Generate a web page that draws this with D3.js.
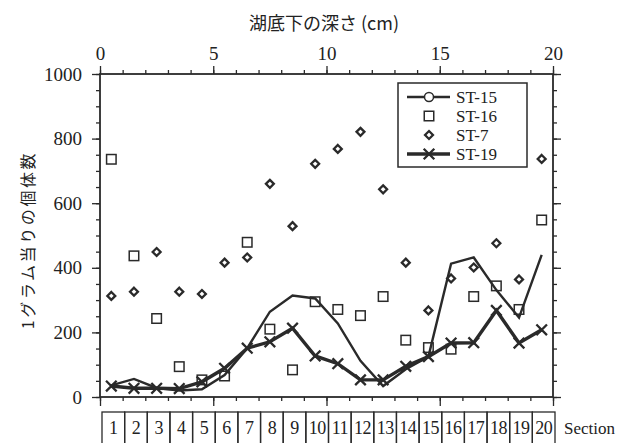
<!DOCTYPE html>
<html><head><meta charset="utf-8">
<script src="https://cdn.jsdelivr.net/npm/d3@7"></script>
<style>
body{margin:0;background:#fff;}
svg{display:block;}
</style></head>
<body>
<svg id="chart" width="621" height="443"></svg>
<script>
// Data (sections 1..20, each section spans 1 cm of depth)
const sections = ["1","2","3","4","5","6","7","8","9","10","11","12","13","14","15","16","17","18","19","20"];
const st15 = [36, 56, 28, 20, 24, 68, 151, 264, 314, 305, 228, 112, 34, 86, 125, 413, 432, 331, 246, 440];
const st16 = [736, 437, 243, 94, 53, 65, 479, 210, 84, 295, 271, 252, 311, 176, 153, 148, 311, 344, 271, 548];
const st7  = [313, 326, 449, 326, 319, 416, 432, 660, 529, 722, 768, 821, 643, 416, 268, 367, 401, 476, 364, 737];
const st19 = [34, 27, 27, 26, 47, 89, 151, 171, 213, 127, 103, 53, 53, 95, 125, 167, 168, 268, 167, 208];
const depthTicks = [0, 5, 10, 15, 20];
const countTicks = [0, 200, 400, 600, 800, 1000];
const legendNames = ["ST-15", "ST-16", "ST-7", "ST-19"];
const xTitle = "湖底下の深さ (cm)";
const yTitle = "1グラム当りの個体数";
const sectionTitle = "Section";

const C = "#2a2a2a";
const svg = d3.select("#chart");
const x = d3.scaleLinear().domain([0, 20]).range([100, 553]);
const y = d3.scaleLinear().domain([0, 1000]).range([397, 74]);
const serif = "'Liberation Serif', 'Times New Roman', serif";
const sans = "'Noto Sans CJK JP', 'Noto Sans', sans-serif";

const xc = i => x(i + 0.5); // section centre

// axes
function styleAxis(g, fs) {
  g.select(".domain").remove();
  g.selectAll("line").attr("stroke", C).attr("stroke-width", 1.3);
  g.selectAll("text").attr("fill", "#222").style("font-family", serif).style("font-size", fs + "px");
}
const minorX = d3.range(0, 21);
const minorY = d3.range(0, 1001, 50);

svg.append("g").attr("transform", `translate(0,${y(1000)})`)
  .call(d3.axisTop(x).tickValues(minorX).tickSize(4).tickFormat("")).call(g => styleAxis(g, 19));
svg.append("g").attr("transform", `translate(0,${y(1000)})`)
  .call(d3.axisTop(x).tickValues(depthTicks).tickSize(8).tickPadding(6).tickFormat(d3.format("d"))).call(g => styleAxis(g, 19));
svg.append("g").attr("transform", `translate(0,${y(0)})`)
  .call(d3.axisBottom(x).tickValues(minorX).tickSize(4).tickFormat("")).call(g => styleAxis(g, 19));
svg.append("g").attr("transform", `translate(0,${y(0)})`)
  .call(d3.axisBottom(x).tickValues(depthTicks).tickSize(9).tickFormat("")).call(g => styleAxis(g, 19));
svg.append("g").attr("transform", `translate(${x(0)},0)`)
  .call(d3.axisLeft(y).tickValues(minorY).tickSize(4).tickFormat("")).call(g => styleAxis(g, 19));
svg.append("g").attr("transform", `translate(${x(0)},0)`)
  .call(d3.axisLeft(y).tickValues(countTicks).tickSize(8).tickPadding(10).tickFormat(d3.format("d"))).call(g => styleAxis(g, 19));
svg.append("g").attr("transform", `translate(${x(20)},0)`)
  .call(d3.axisRight(y).tickValues(minorY).tickSize(4).tickFormat("")).call(g => styleAxis(g, 19));
svg.append("g").attr("transform", `translate(${x(20)},0)`)
  .call(d3.axisRight(y).tickValues(countTicks).tickSize(8).tickFormat("")).call(g => styleAxis(g, 19));

// frame
svg.append("rect").attr("x", x(0)).attr("y", y(1000)).attr("width", x(20) - x(0)).attr("height", y(0) - y(1000))
  .attr("fill", "none").attr("stroke", C).attr("stroke-width", 1.8);

// titles
svg.append("text").attr("x", 324).attr("y", 30).attr("text-anchor", "middle")
  .style("font-family", sans).style("font-size", "18px").attr("fill", "#222").text(xTitle);
svg.append("text").attr("transform", "translate(34,240) rotate(-90)").attr("text-anchor", "middle")
  .style("font-family", sans).style("font-size", "16px").style("letter-spacing", "2.6px").attr("fill", "#222").text(yTitle);

// lines
const line = d3.line().x((d, i) => xc(i)).y(d => y(d));
svg.append("path").datum(st15).attr("d", line).attr("fill", "none").attr("stroke", C).attr("stroke-width", 2.4).attr("stroke-linejoin", "miter");
svg.append("path").datum(st19).attr("d", line).attr("fill", "none").attr("stroke", C).attr("stroke-width", 3.4);

// markers
const sq = 9.5;
svg.append("g").selectAll("rect").data(st16).join("rect")
  .attr("x", (d, i) => xc(i) - sq / 2).attr("y", d => y(d) - sq / 2).attr("width", sq).attr("height", sq)
  .attr("fill", "none").attr("stroke", C).attr("stroke-width", 1.5);
const dia = d3.symbol().type(d3.symbolDiamond2).size(40);
svg.append("g").selectAll("path").data(st7).join("path")
  .attr("d", dia).attr("transform", (d, i) => `translate(${xc(i)},${y(d)})`)
  .attr("fill", "none").attr("stroke", C).attr("stroke-width", 2.3);
const cross = d3.symbol().type(d3.symbolX).size(75);
svg.append("g").selectAll("path").data(st19).join("path")
  .attr("d", cross).attr("transform", (d, i) => `translate(${xc(i)},${y(d)})`)
  .attr("fill", "none").attr("stroke", C).attr("stroke-width", 2.3);

// legend
const lg = svg.append("g");
lg.append("rect").attr("x", 398).attr("y", 83).attr("width", 129).attr("height", 84)
  .attr("fill", "#fff").attr("stroke", C).attr("stroke-width", 1.5);
const ly = [97, 116, 135, 154];
legendNames.forEach((n, k) => {
  const yy = ly[k];
  if (k === 0 || k === 3) {
    lg.append("line").attr("x1", 407).attr("x2", 450).attr("y1", yy).attr("y2", yy).attr("stroke", C).attr("stroke-width", k === 0 ? 2.4 : 3.4);
  }
  if (k === 0) lg.append("circle").attr("cx", 429).attr("cy", yy).attr("r", 4.5).attr("fill", "#fff").attr("stroke", C).attr("stroke-width", 1.5);
  if (k === 1) lg.append("rect").attr("x", 429 - sq / 2).attr("y", yy - sq / 2).attr("width", sq).attr("height", sq).attr("fill", "none").attr("stroke", C).attr("stroke-width", 1.5);
  if (k === 2) lg.append("path").attr("d", dia).attr("transform", `translate(429,${yy})`).attr("fill", "none").attr("stroke", C).attr("stroke-width", 2.3);
  if (k === 3) lg.append("path").attr("d", cross).attr("transform", `translate(429,${yy})`).attr("fill", "none").attr("stroke", C).attr("stroke-width", 2.3);
  lg.append("text").attr("x", 456).attr("y", yy + 5.5).style("font-family", serif).style("font-size", "17px").attr("fill", "#222").text(n);
});

// section boxes
const sg = svg.append("g");
sections.forEach((s, i) => {
  sg.append("rect").attr("x", x(i) + 2).attr("y", 412).attr("width", x(i + 1) - x(i)).attr("height", 40)
    .attr("fill", "none").attr("stroke", C).attr("stroke-width", 1.3);
  sg.append("text").attr("x", xc(i) + 2).attr("y", 434).attr("text-anchor", "middle")
    .style("font-family", serif).style("font-size", "18px").style("letter-spacing", "-0.5px").attr("fill", "#222").text(s);
});
sg.append("text").attr("x", 564).attr("y", 434).style("font-family", serif).style("font-size", "17px").attr("fill", "#222").text(sectionTitle);
</script>
</body></html>
